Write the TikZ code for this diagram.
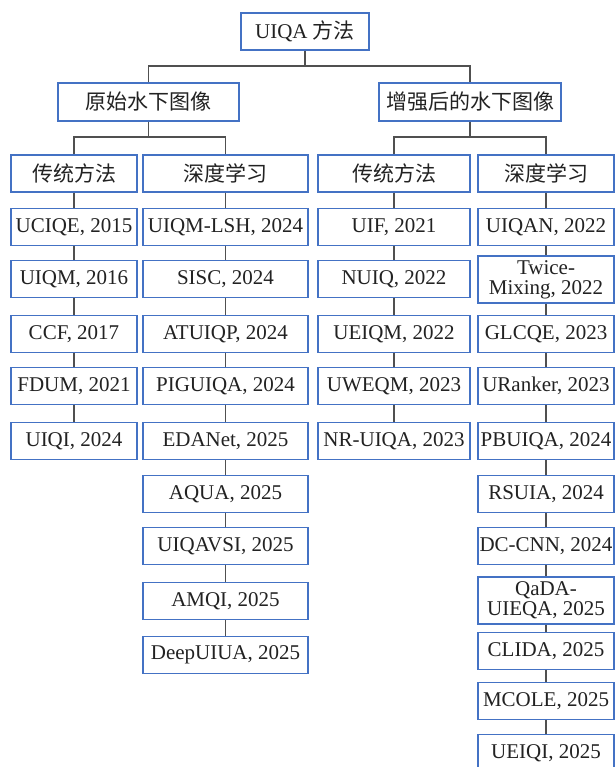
\documentclass[tikz,border=0pt]{standalone}
\usepackage{fontspec}
\setmainfont{Liberation Serif}
\newfontfamily\cjk{Noto Sans CJK SC}
\usepackage{xcolor}
\usepackage{tikz}
\definecolor{boxblue}{RGB}{68,114,196}
\definecolor{linegray}{RGB}{80,80,80}
\definecolor{txtgray}{RGB}{34,34,34}
\tikzset{every edge/.style={draw=linegray, line width=1pt}}
\tikzset{
  box/.style={draw=boxblue, line width=1.1pt, fill=white, text=txtgray,
    inner sep=0pt, minimum height=27.75pt, align=center,
    font=\fontsize{15.75}{15}\selectfont},
  tall/.style={minimum height=35.25pt},
  link/.style={draw=linegray, line width=1pt},
  wa/.style={minimum width=94.5pt},
  wb/.style={minimum width=123.75pt},
  wc/.style={minimum width=114pt},
  wd/.style={minimum width=102pt}
}

\begin{document}
\begin{tikzpicture}[x=0.75pt, y=-0.75pt]
  \useasboundingbox (0, 0) rectangle (615, 767);

  \node[box, minimum width=96pt] at (305, 31.5) (root) {UIQA {\cjk 方法}};

  \node[box, minimum width=136pt, minimum height=28.5pt] at (148.5, 102) (raw) {\cjk 原始水下图像};
  \node[box, minimum width=136.5pt, minimum height=28.5pt] at (470, 102) (enh) {\cjk 增强后的水下图像};

  \node[box, wa] at (74, 173.5)    (rawT) {\cjk 传统方法};
  \node[box, wb] at (225.5, 173.5) (rawD) {\cjk 深度学习};
  \node[box, wc] at (394, 173.5)   (enhT) {\cjk 传统方法};
  \node[box, wd] at (546, 173.5)   (enhD) {\cjk 深度学习};

  % original images, traditional
  \node[box, wa] at (74, 227) (A1) {UCIQE, 2015};
  \node[box, wa] at (74, 279) (A2) {UIQM, 2016};
  \node[box, wa] at (74, 334) (A3) {CCF, 2017};
  \node[box, wa] at (74, 386) (A4) {FDUM, 2021};
  \node[box, wa] at (74, 441) (A5) {UIQI, 2024};

  % original images, deep learning
  \node[box, wb] at (225.5, 227) (B1) {UIQM-LSH, 2024};
  \node[box, wb] at (225.5, 279) (B2) {SISC, 2024};
  \node[box, wb] at (225.5, 334) (B3) {ATUIQP, 2024};
  \node[box, wb] at (225.5, 386) (B4) {PIGUIQA, 2024};
  \node[box, wb] at (225.5, 441) (B5) {EDANet, 2025};
  \node[box, wb] at (225.5, 494) (B6) {AQUA, 2025};
  \node[box, wb] at (225.5, 546) (B7) {UIQAVSI, 2025};
  \node[box, wb] at (225.5, 601) (B8) {AMQI, 2025};
  \node[box, wb] at (225.5, 655) (B9) {DeepUIUA, 2025};

  % enhanced images, traditional
  \node[box, wc] at (394, 227) (C1) {UIF, 2021};
  \node[box, wc] at (394, 279) (C2) {NUIQ, 2022};
  \node[box, wc] at (394, 334) (C3) {UEIQM, 2022};
  \node[box, wc] at (394, 386) (C4) {UWEQM, 2023};
  \node[box, wc] at (394, 441) (C5) {NR-UIQA, 2023};

  % enhanced images, deep learning
  \node[box, wd]       at (546, 227)   (D1)  {UIQAN, 2022};
  \node[box, wd, tall] at (546, 279.5) (D2)  {Twice-\\Mixing, 2022};
  \node[box, wd]       at (546, 334)   (D3)  {GLCQE, 2023};
  \node[box, wd]       at (546, 386)   (D4)  {URanker, 2023};
  \node[box, wd]       at (546, 441)   (D5)  {PBUIQA, 2024};
  \node[box, wd]       at (546, 494)   (D6)  {RSUIA, 2024};
  \node[box, wd]       at (546, 546)   (D7)  {DC-CNN, 2024};
  \node[box, wd, tall] at (546, 600.5) (D8)  {QaDA-\\UIEQA, 2025};
  \node[box, wd]       at (546, 651)   (D9)  {CLIDA, 2025};
  \node[box, wd]       at (546, 701)   (D10) {MCOLE, 2025};
  \node[box, wd]       at (546, 753)   (D11) {UEIQI, 2025};

  \coordinate (j0) at (305, 66);
  \coordinate (j1) at (148.5, 137);
  \coordinate (j2) at (470, 137);

  \draw[link] (root) -- (j0);
  \draw[link] (raw.north) |- (j0) -| (enh.north);
  \draw[link] (raw) -- (j1);
  \draw[link] (rawT.north) |- (j1) -| (rawD.north);
  \draw[link] (enh) -- (j2);
  \draw[link] (enhT.north) |- (j2) -| (enhD.north);

  \draw (rawT) edge (A1);
  \draw (A1) edge (A2);
  \draw (A2) edge (A3);
  \draw (A3) edge (A4);
  \draw (A4) edge (A5);

  \draw (rawD) edge (B1);
  \draw (B1) edge (B2);
  \draw (B2) edge (B3);
  \draw (B3) edge (B4);
  \draw (B4) edge (B5);
  \draw (B5) edge (B6);
  \draw (B6) edge (B7);
  \draw (B7) edge (B8);
  \draw (B8) edge (B9);

  \draw (enhT) edge (C1);
  \draw (C1) edge (C2);
  \draw (C2) edge (C3);
  \draw (C3) edge (C4);
  \draw (C4) edge (C5);

  \draw (enhD) edge (D1);
  \draw (D1) edge (D2);
  \draw (D2) edge (D3);
  \draw (D3) edge (D4);
  \draw (D4) edge (D5);
  \draw (D5) edge (D6);
  \draw (D6) edge (D7);
  \draw (D7) edge (D8);
  \draw (D8) edge (D9);
  \draw (D9) edge (D10);
  \draw (D10) edge (D11);
\end{tikzpicture}
\end{document}
